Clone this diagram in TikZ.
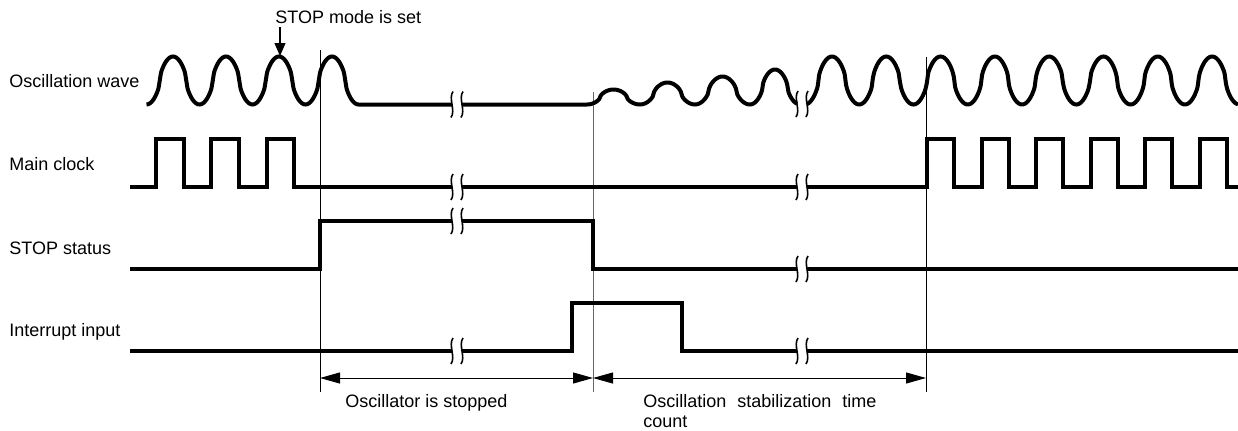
\documentclass[tikz,border=0pt]{standalone}
\usepackage{fontspec}
\setmainfont{Liberation Sans}
\usetikzlibrary{arrows.meta}
\begin{document}
\begin{tikzpicture}[x=0.5pt,y=-0.5pt,
  declare function={sq(\t)=sign(cos(\t))*pow(abs(cos(\t))+0.00001,0.6);},
  sig/.style={line width=2pt, line join=miter},
  guide/.style={line width=0.5pt},
  lbl/.style={font=\fontsize{9}{11}\selectfont, inner sep=0pt, anchor=base west},
  brkline/.style={line width=0.8pt},
  dim/.style={line width=0.5pt, {Triangle[length=10pt,width=5.5pt]}-{Triangle[length=10pt,width=5.5pt]}},
  brk/.pic={\draw[brkline] (1,-13) .. controls (-4,-6) and (4,6) .. (-1,13);
            \draw[brkline] (11,-13) .. controls (6,-6) and (14,6) .. (9,13);}
]
\useasboundingbox (0,0) rectangle (1238,430);

% labels
\node[lbl] (osc) at (9,87) {Oscillation wave};
\node[lbl] (clk) at (9,170) {Main clock};
\node[lbl] (stp) at (9,254) {STOP status};
\node[lbl] (irq) at (9,336) {Interrupt input};
\node[lbl] (set) at (275,23) {STOP mode is set};
\node[lbl] (stopped) at (345,407) {Oscillator is stopped};
\node[lbl] (stab) at (643,407) {Oscillation\hspace{5.5pt}stabilization\hspace{5.5pt}time};
\node[lbl] (cnt) at (643,427) {count};

% guide lines
\coordinate (g1t) at (320,50);  \coordinate (g1b) at (320,392);
\coordinate (g2t) at (593,92);  \coordinate (g2b) at (593,392);
\coordinate (g3t) at (926,57);  \coordinate (g3b) at (926,392);
\draw[guide] (g1t) -- (g1b);
\draw[guide, black!60] (g2t) -- (g2b);
\draw[guide] (g3t) -- (g3b);

% dimension arrows
\coordinate (a1) at (320,378);
\coordinate (a2) at (593,378);
\coordinate (a3) at (926,378);
\draw[dim] (a1) -- (a2);
\draw[dim] (a2) -- (a3);

% STOP mode is set arrow
\coordinate (arrtop) at (280,27);
\coordinate (arrtip) at (280,56);
\draw[line width=0.6pt, -{Triangle[length=6.5pt,width=5.5pt]}] (arrtop) -- (arrtip);

% Oscillation wave
\draw[sig] plot[domain=146.5:358.5, samples=161, smooth] (\x,{80.5-24*sq((\x-173)/53*360)}) -- (452,104.5);
\pic at (452,104.5) {brk};
\draw[sig] (462,104.5) -- (587,104.5)
  -- plot[domain=587:640, samples=40, smooth] (\x,{104.5-7.5*(1-sq((\x-587)/53*360))})
  -- plot[domain=640:695, samples=40, smooth] (\x,{104.5-11*(1-sq((\x-640)/55*360))})
  -- plot[domain=695:750, samples=40, smooth] (\x,{104.5-14*(1-sq((\x-695)/55*360))})
  -- plot[domain=750:797, samples=40, smooth] (\x,{104.5-17.5*(1-sq((\x-750)/50*360))});
\pic at (797,104) {brk};
\draw[sig] plot[domain=807:1238, samples=321, smooth] (\x,{80.5-24*sq((\x-832)/54.3*360)});

% Main clock
\draw[sig] (130,187) -- (156,187) -- (156,139) -- (184,139) -- (184,187)
  -- (211,187) -- (211,139) -- (239,139) -- (239,187)
  -- (267,187) -- (267,139) -- (294,139) -- (294,187) -- (452,187);
\pic at (452,187) {brk};
\draw[sig] (462,187) -- (797,187);
\pic at (797,187) {brk};
\draw[sig] (807,187) -- (927,187) -- (927,139) -- (954,139) -- (954,187)
  -- (981.5,187) -- (981.5,139) -- (1008.5,139) -- (1008.5,187)
  -- (1036,187) -- (1036,139) -- (1063,139) -- (1063,187)
  -- (1090.5,187) -- (1090.5,139) -- (1117.5,139) -- (1117.5,187)
  -- (1145,187) -- (1145,139) -- (1172,139) -- (1172,187)
  -- (1199.5,187) -- (1199.5,139) -- (1226.5,139) -- (1226.5,187) -- (1238,187);

% STOP status
\draw[sig] (130,269) -- (320,269) -- (320,221) -- (452,221);
\pic at (452,221) {brk};
\draw[sig] (462,221) -- (593,221) -- (593,269) -- (797,269);
\pic at (797,269) {brk};
\draw[sig] (807,269) -- (1238,269);

% Interrupt input
\draw[sig] (130,351) -- (452,351);
\pic at (452,351) {brk};
\draw[sig] (462,351) -- (572,351) -- (572,303) -- (682,303) -- (682,351) -- (797,351);
\pic at (797,351) {brk};
\draw[sig] (807,351) -- (1238,351);
\end{tikzpicture}
\end{document}
